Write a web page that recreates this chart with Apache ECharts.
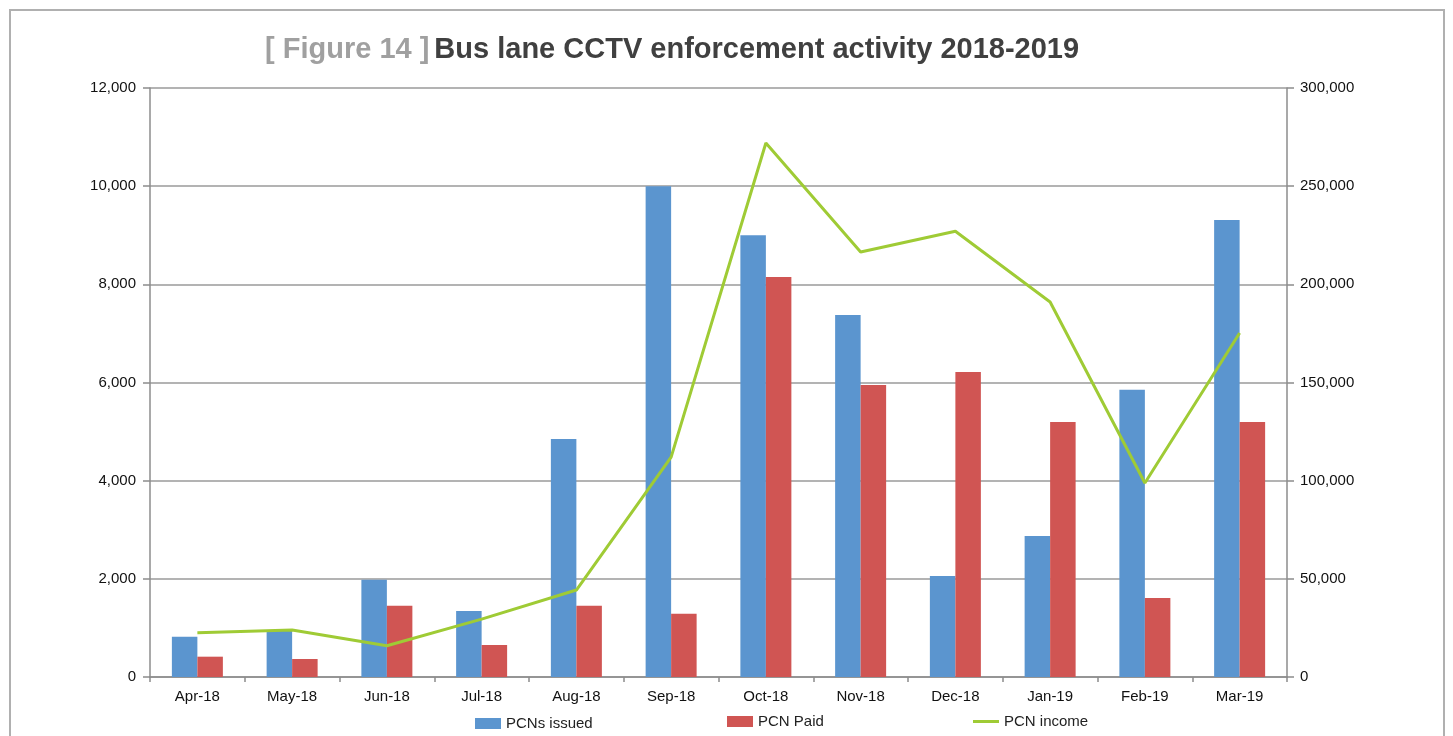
<!DOCTYPE html>
<html>
<head>
<meta charset="utf-8">
<script src="https://cdn.jsdelivr.net/npm/echarts@6/dist/echarts.min.js"></script>
<style>
html,body{margin:0;padding:0;background:#fff;}
#frame{position:absolute;left:9px;top:9px;width:1436px;height:740px;border:2px solid #b0b0b0;border-bottom:none;box-sizing:border-box;}
#chart{position:absolute;left:0;top:0;width:1453px;height:736px;}
</style>
</head>
<body>
<div id="frame"></div>
<div id="chart"></div>
<script>
var categories = ['Apr-18','May-18','Jun-18','Jul-18','Aug-18','Sep-18','Oct-18','Nov-18','Dec-18','Jan-19','Feb-19','Mar-19'];
var pcnsIssued = [820, 940, 1980, 1345, 4850, 10000, 9000, 7375, 2060, 2875, 5850, 9310];
var pcnPaid = [414, 367, 1450, 652, 1450, 1290, 8150, 5950, 6215, 5195, 1610, 5195];
var pcnIncome = [22500, 23900, 15900, 29500, 44300, 112000, 272000, 216500, 227000, 191000, 98800, 175200];
var leftTicks = [0, 2000, 4000, 6000, 8000, 10000, 12000];
var rightTicks = [0, 50000, 100000, 150000, 200000, 250000, 300000];

var chart = echarts.init(document.getElementById('chart'), null, {renderer: 'canvas'});
var fmt = function (v) { return v.toLocaleString('en-US'); };
var font = '"Liberation Sans", Arial, Helvetica, sans-serif';
var axisLineStyle = {color: '#8c8c8c', width: 1.5};
chart.setOption({
  animation: false,
  textStyle: {fontFamily: font},
  title: {
    text: '{a|[ Figure 14 ]} {b|Bus lane CCTV enforcement activity 2018-2019}',
    left: 260, top: 30,
    textStyle: {
      rich: {
        a: {fontSize: 29, fontWeight: 'bold', color: '#a0a0a0', fontFamily: font},
        b: {fontSize: 29, fontWeight: 'bold', color: '#404040', fontFamily: font}
      }
    }
  },
  legend: [
    {data: [{name: 'PCNs issued', icon: 'rect'}], left: 470, top: 711, itemWidth: 26, itemHeight: 11, itemGap: 8, textStyle: {fontSize: 15, color: '#222', fontFamily: font}},
    {data: [{name: 'PCN Paid', icon: 'rect'}], left: 722, top: 709, itemWidth: 26, itemHeight: 11, textStyle: {fontSize: 15, color: '#222', fontFamily: font}},
    {data: [{name: 'PCN income', icon: 'rect'}], left: 968, top: 709, itemWidth: 26, itemHeight: 3, textStyle: {fontSize: 15, color: '#222', fontFamily: font}}
  ],
  grid: {left: 150, right: 166, top: 88, bottom: 59, containLabel: false},
  xAxis: {
    type: 'category',
    data: categories,
    axisLine: {lineStyle: axisLineStyle},
    axisTick: {show: true, alignWithLabel: false, length: 5, lineStyle: axisLineStyle},
    axisLabel: {fontSize: 15, color: '#111', margin: 12, fontFamily: font}
  },
  yAxis: [
    {
      type: 'value', min: 0, max: 12000, interval: 2000,
      axisLine: {show: true, lineStyle: axisLineStyle},
      axisTick: {show: true, length: 7, lineStyle: axisLineStyle},
      splitLine: {lineStyle: {color: '#9a9a9a', width: 1.5}},
      axisLabel: {fontSize: 15, color: '#111', margin: 14, fontFamily: font, formatter: fmt}
    },
    {
      type: 'value', min: 0, max: 300000, interval: 50000,
      axisLine: {show: true, lineStyle: axisLineStyle},
      axisTick: {show: true, length: 7, lineStyle: axisLineStyle},
      splitLine: {show: false},
      axisLabel: {fontSize: 15, color: '#111', margin: 13, fontFamily: font, formatter: fmt}
    }
  ],
  series: [
    {name: 'PCNs issued', type: 'bar', yAxisIndex: 0, data: pcnsIssued, barWidth: 25.5, barGap: '0%', itemStyle: {color: '#5b95cf'}},
    {name: 'PCN Paid', type: 'bar', yAxisIndex: 0, data: pcnPaid, barWidth: 25.5, barGap: '0%', itemStyle: {color: '#d05553'}},
    {name: 'PCN income', type: 'line', yAxisIndex: 1, data: pcnIncome, symbol: 'none', lineStyle: {color: '#9fcb35', width: 3}, itemStyle: {color: '#9fcb35'}}
  ]
});
</script>
</body>
</html>
